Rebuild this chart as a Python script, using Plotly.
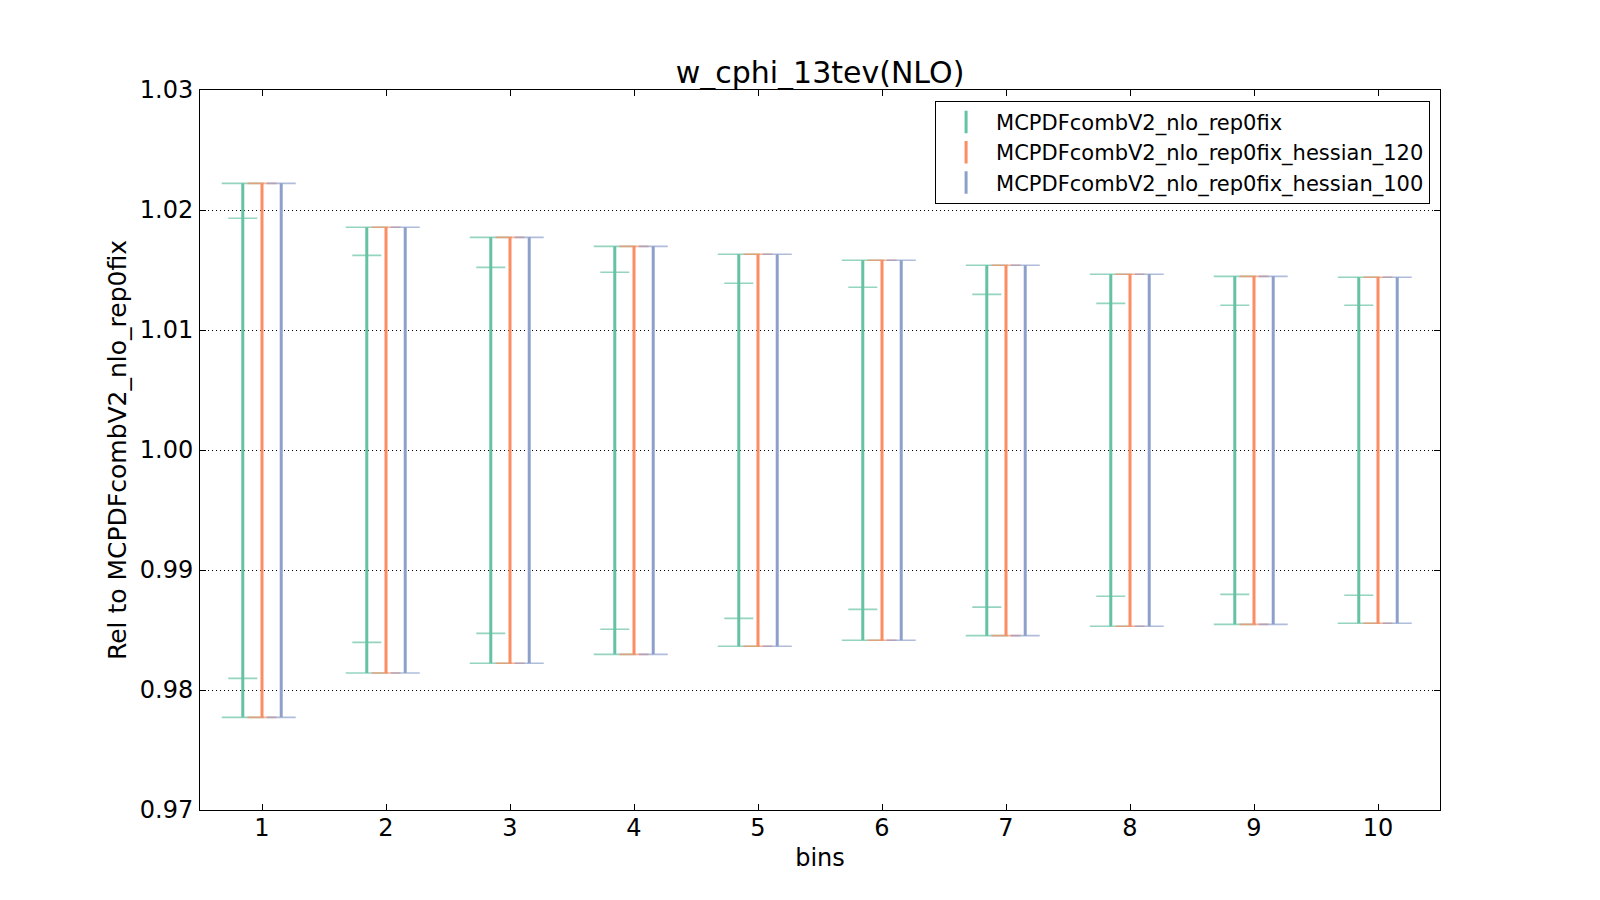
import plotly.graph_objects as go

bins = [1, 2, 3, 4, 5, 6, 7, 8, 9, 10]
tick_labels = ["1", "2", "3", "4", "5", "6", "7", "8", "9", "10"]

# outer (full) uncertainty band, same for all three sets
rep0_hi = [1.02222, 1.01856, 1.01772, 1.01697, 1.01631, 1.01581, 1.01539, 1.01464, 1.01447, 1.01439]
rep0_lo = [0.97772, 0.98142, 0.98223, 0.98297, 0.98364, 0.98414, 0.98453, 0.98531, 0.98547, 0.98556]
# inner (68% CL) band of the MC set
rep0_hi68 = [1.01931, 1.01622, 1.01522, 1.01481, 1.01389, 1.01356, 1.01297, 1.01222, 1.01206, 1.01206]
rep0_lo68 = [0.98097, 0.98397, 0.98472, 0.98506, 0.98597, 0.98672, 0.98691, 0.98781, 0.98797, 0.98789]

h120_hi = [1.02222, 1.01856, 1.01772, 1.01697, 1.01631, 1.01581, 1.01539, 1.01464, 1.01447, 1.01439]
h120_lo = [0.97772, 0.98142, 0.98223, 0.98297, 0.98364, 0.98414, 0.98453, 0.98531, 0.98547, 0.98556]

h100_hi = [1.02222, 1.01856, 1.01772, 1.01697, 1.01631, 1.01581, 1.01539, 1.01464, 1.01447, 1.01439]
h100_lo = [0.97772, 0.98142, 0.98223, 0.98297, 0.98364, 0.98414, 0.98453, 0.98531, 0.98547, 0.98556]

names = ["MCPDFcombV2_nlo_rep0fix", "MCPDFcombV2_nlo_rep0fix_hessian_120", "MCPDFcombV2_nlo_rep0fix_hessian_100"]
colors = ["#66c2a5", "#fc8d62", "#8da0cb"]
cap_colors = ["rgba(102,194,165,0.7)", "rgba(252,141,98,0.7)", "rgba(141,160,203,0.7)"]
offsets = [-0.155, 0.0, 0.155]

fig = go.Figure()


def band(xs, hi, lo, color, thick, capw):
    mid = [(h + l) / 2 for h, l in zip(hi, lo)]
    return go.Scatter(
        x=xs, y=mid, mode="markers", marker=dict(size=1, color="rgba(0,0,0,0)", opacity=0),
        error_y=dict(type="data", symmetric=False,
                     array=[h - m for h, m in zip(hi, mid)],
                     arrayminus=[m - l for m, l in zip(mid, lo)],
                     color=color, thickness=thick, width=capw),
        showlegend=False, hoverinfo="skip")


series = [(rep0_hi, rep0_lo), (h120_hi, h120_lo), (h100_hi, h100_lo)]
for i, (hi, lo) in enumerate(series):
    xs = [b + offsets[i] for b in bins]
    capw = 21 if i == 0 else 14.5
    fig.add_trace(band(xs, hi, lo, cap_colors[i], 1.6, capw))
    if i == 0:
        fig.add_trace(band(xs, rep0_hi68, rep0_lo68, cap_colors[i], 1.6, 14.5))
    fig.add_trace(band(xs, hi, lo, colors[i], 3, 0))

for i in range(3):
    fig.add_trace(go.Scatter(
        x=[None], y=[None], mode="markers", name=names[i],
        marker=dict(symbol="line-ns-open", size=16, color=colors[i],
                    line=dict(color=colors[i], width=3))))

font = "DejaVu Sans"
fig.update_layout(
    width=1600, height=900,
    paper_bgcolor="white", plot_bgcolor="white",
    margin=dict(l=192, r=168, t=82, b=98, autoexpand=False),
    title=dict(text="w_cphi_13tev(NLO)", x=0.5075, xanchor="center", y=0.928, yanchor="middle",
               font=dict(family=font, size=30, color="black")),
    font=dict(family=font, color="black"),
    showlegend=True,
    legend=dict(x=0.992, xanchor="right", y=0.985, yanchor="top",
                bordercolor="black", borderwidth=1, bgcolor="white",
                font=dict(family=font, size=21, color="black"),
                itemwidth=50, tracegroupgap=0),
    xaxis=dict(range=[0.5, 10.5], tickmode="array", tickvals=bins, ticktext=tick_labels,
               automargin=False,
               showgrid=False, zeroline=False, showline=True, linecolor="black", linewidth=1,
               mirror="ticks", ticks="inside", ticklen=6, tickcolor="black",
               ticklabelstandoff=-4,
               tickfont=dict(family=font, size=24, color="black"),
               title=dict(text="bins", font=dict(family=font, size=24, color="black"), standoff=8)),
    yaxis=dict(range=[0.97, 1.03], dtick=0.01, tickformat=".2f",
               automargin=False,
               showgrid=True, gridcolor="black", gridwidth=1, griddash="1px,3px",
               zeroline=False, showline=True, linecolor="black", linewidth=1,
               mirror="ticks", ticks="inside", ticklen=6, tickcolor="black",
               ticklabelstandoff=1,
               tickfont=dict(family=font, size=24, color="black"),
               title=dict(text="Rel to MCPDFcombV2_nlo_rep0fix",
                          font=dict(family=font, size=25, color="black"), standoff=6)),
)

fig.write_html("out.html")
